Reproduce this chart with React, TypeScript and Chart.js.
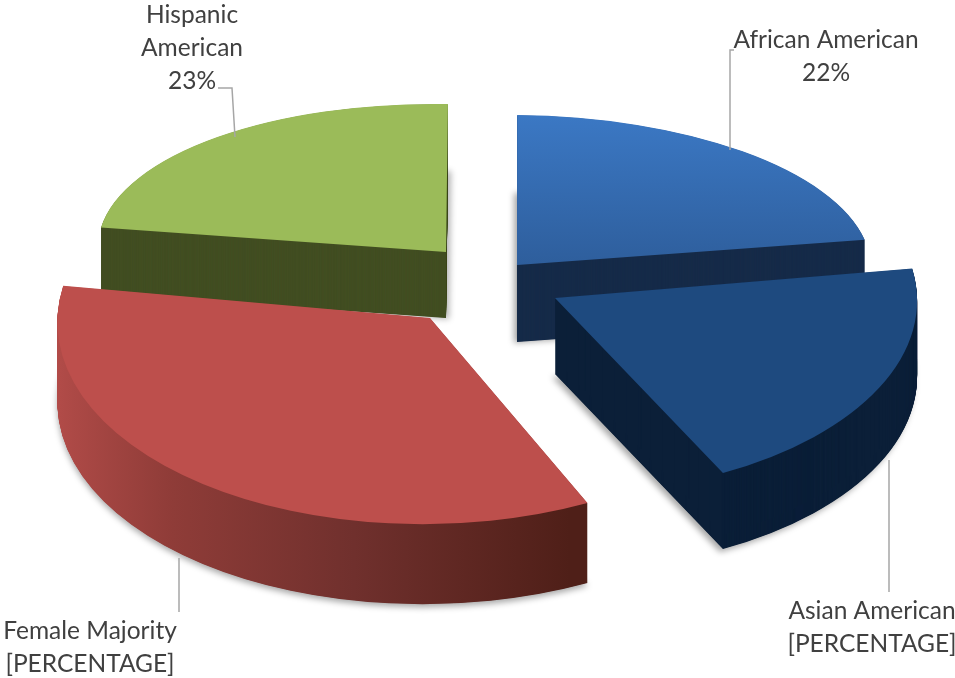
import React, { useEffect, useRef } from "react";
import { Chart, registerables } from "chart.js";

Chart.register(...registerables);

const categories = ["African American", "Asian American", "Female Majority", "Hispanic American"];
const shares = [22, 20, 35, 23];
const shareLabels = ["22%", "[PERCENTAGE]", "[PERCENTAGE]", "23%"];
const topColors = ["#3567ab", "#1e4a7f", "#bd4f4c", "#9bbb59"];
const offsets = [160, 280, 300, 170];

const RADIUS = 300;
// per-slice view of the tilted pie (chart index order)
const views = [
  { ax: 517, ay: 265, rx: 354, ry: 150, kx: 0, ky: 3, depth: 77 },
  { ax: 555, ay: 298, rx: 362, ry: 196, kx: -8, ky: 7, depth: 76 },
  { ax: 430, ay: 318, rx: 372, ry: 206, kx: -22, ky: 8, depth: 80 },
  { ax: 446, ay: 252, rx: 348, ry: 148, kx: -2, ky: 6, depth: 66 },
];
const paintOrder = [3, 0, 1, 2];
const shadows = [
  { c: "rgba(0,0,0,0.35)", x: -3, y: 1 },
  { c: "rgba(0,0,0,0.35)", x: -3, y: 3 },
  { c: "rgba(0,0,0,0.35)", x: 0, y: 3 },
  { c: "rgba(0,0,0,0.3)", x: 3, y: 1 },
];
const leaders = [
  [[730, 150], [730, 50], [734, 50]],
  [[889, 460], [889, 592]],
  [[179, 558], [179, 612]],
  [[235, 137], [232, 88], [218, 88]],
];
const labelLines = [
  { x: 826, y: 40, lines: ["African American", shareLabels[0]] },
  { x: 872, y: 611, lines: ["Asian American", shareLabels[1]] },
  { x: 90, y: 631, lines: ["Female Majority", shareLabels[2]] },
  { x: 192, y: 15, lines: ["Hispanic", "American", shareLabels[3]] },
];

const tilted3D = {
  id: "tilted3D",
  beforeDatasetsDraw(chart: any) {
    const ctx: CanvasRenderingContext2D = chart.ctx;
    const arcs = chart.getDatasetMeta(0).data;
    for (const i of paintOrder) {
      const arc = arcs[i];
      const v = views[i];
      const base = arc.options;
      const off = (base.offset || 0) / 4;
      const mid = (arc.startAngle + arc.endAngle) / 2;
      const fix = 1 - Math.sin(Math.min(Math.PI, arc.circumference));
      const r = RADIUS + off * fix;
      const a = v.rx / r, b = v.ky / r, c = v.kx / r, d = v.ry / r;
      const ox = Math.cos(mid) * off, oy = Math.sin(mid) * off;
      const apply = (lift: number) => {
        ctx.setTransform(1, 0, 0, 1, 0, 0);
        ctx.translate(v.ax, v.ay + lift);
        ctx.transform(a, b, c, d, 0, 0);
        ctx.translate(-arc.x - ox, -arc.y - oy);
      };
      // map a screen x / y to the arc's local space for gradients
      const lx = (sx: number) => arc.x + (sx - v.ax) / a;
      const ly = (sy: number) => arc.y + (sy - v.ay) / d;

      ctx.save();
      let side: any;
      if (i === 2) {
        side = ctx.createLinearGradient(lx(55), 0, lx(590), 0);
        side.addColorStop(0, "#b34c49");
        side.addColorStop(0.25, "#8f3c38");
        side.addColorStop(0.6, "#70302d");
        side.addColorStop(1, "#4f1f18");
      } else {
        side = ["#162b49", "#0b1f38", "", "#424e22"][i];
      }
      const paint = (fill: any) => {
        arc.options = Object.create(base, {
          backgroundColor: { value: fill },
          borderWidth: { value: 0 },
        });
        arc.draw(ctx);
        arc.options = base;
      };
      const s = shadows[i];
      for (let k = v.depth; k >= 0.5; k -= 0.5) {
        if (k === v.depth) {
          ctx.shadowColor = s.c;
          ctx.shadowBlur = 6;
          ctx.shadowOffsetX = s.x;
          ctx.shadowOffsetY = s.y;
        } else {
          ctx.shadowColor = "transparent";
          ctx.shadowBlur = 0;
          ctx.shadowOffsetX = 0;
          ctx.shadowOffsetY = 0;
        }
        apply(k);
        paint(side);
      }
      apply(0);
      let top: any = base.backgroundColor;
      if (i === 0) {
        top = ctx.createLinearGradient(0, ly(115), 0, ly(265));
        top.addColorStop(0, "#3b78c4");
        top.addColorStop(1, "#2e5e9c");
      }
      paint(top);
      ctx.restore();
    }
    ctx.setTransform(chart.currentDevicePixelRatio, 0, 0, chart.currentDevicePixelRatio, 0, 0);
    return false;
  },
  afterDraw(chart: any) {
    const ctx: CanvasRenderingContext2D = chart.ctx;
    ctx.save();
    ctx.strokeStyle = "#a6a6a6";
    ctx.lineWidth = 1.5;
    for (const path of leaders) {
      ctx.beginPath();
      path.forEach((p, n) => (n ? ctx.lineTo(p[0], p[1]) : ctx.moveTo(p[0], p[1])));
      ctx.stroke();
    }
    ctx.fillStyle = "#404040";
    ctx.font = "24.5px Lato";
    ctx.textAlign = "center";
    ctx.textBaseline = "middle";
    for (const l of labelLines) {
      l.lines.forEach((t, n) => ctx.fillText(t, l.x, l.y + n * 33));
    }
    ctx.restore();
  },
};

export default function App() {
  const ref = useRef<HTMLCanvasElement>(null);
  useEffect(() => {
    const chart = new Chart(ref.current as HTMLCanvasElement, {
      type: "pie",
      data: {
        labels: categories,
        datasets: [
          {
            data: shares,
            backgroundColor: topColors,
            borderWidth: 0,
            offset: offsets,
            radius: RADIUS,
          } as any,
        ],
      },
      options: {
        responsive: false,
        animation: false,
        layout: { padding: 0 },
        plugins: { legend: { display: false }, tooltip: { enabled: false } },
      },
      plugins: [tilted3D],
    } as any);
    return () => chart.destroy();
  }, []);
  return (
    <div style={{ position: "absolute", left: 0, top: 0, width: 955, height: 678, background: "#fff" }}>
      <canvas ref={ref} width={955} height={678} style={{ display: "block" }} />
    </div>
  );
}
